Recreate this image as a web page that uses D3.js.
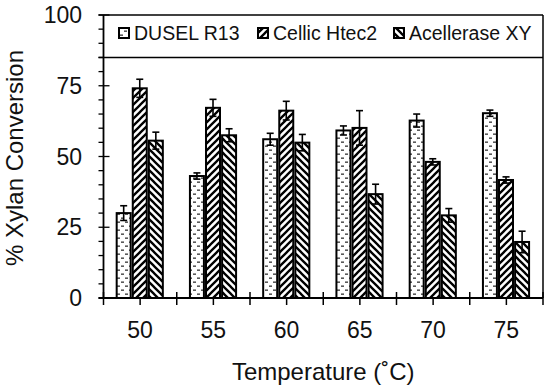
<!DOCTYPE html>
<meta charset="utf-8">
<head>
  <title>Xylan conversion</title>
</head>
<style>
body {
  margin: 0;
  background: #fff;
  font-family: "Liberation Sans", Arial, sans-serif;
}
text { fill: #111; }
</style>
<body>
  <div id="content">
    <svg width="550" height="392"></svg>
  </div>
  <script src="https://cdnjs.cloudflare.com/ajax/libs/d3/7.8.5/d3.min.js"></script>
  <script>

// data
var temps = ['50', '55', '60', '65', '70', '75'];
var series = ['DUSEL R13', 'Cellic Htec2', 'Acellerase XY'];
var dusel = [30, 43.1, 56.1, 59.2, 62.7, 65.3];
var duselErr = [2.6, 1.1, 2.1, 1.6, 2.3, 1.1];
var cellic = [74.1, 67.2, 66.2, 60.1, 48.1, 41.7];
var cellicErr = [3.2, 3.0, 3.3, 6.1, 1.1, 1.1];
var acell = [55.6, 57.5, 54.9, 36.7, 29.2, 19.8];
var acellErr = [3.0, 2.3, 2.9, 3.5, 2.4, 3.8];
var yTicks = [0, 25, 50, 75, 100];

var values = [dusel, cellic, acell];
var errors = [duselErr, cellicErr, acellErr];

var svg = d3.select('#content svg');
// (window.top is read-only, so use other names)
var pL = 103.5, pR = 543, pT = 15, pB = 298;

var x = d3.scaleBand().domain(temps).range([pL, pR]);
var bw = x.bandwidth();
var x1 = d3.scaleBand().domain(series).range([bw * 0.18, bw * 0.81]).paddingInner(0.13);
var y = d3.scaleLinear().domain([0, 100]).range([pB, pT]);

//patterns
var defs = svg.append('defs');
var p0 = defs.append('pattern').attr('id', 'pat0').attr('patternUnits', 'userSpaceOnUse')
  .attr('width', 8).attr('height', 8);
p0.append('rect').attr('width', 8).attr('height', 8).attr('fill', '#fff');
p0.append('rect').attr('x', 1).attr('y', 1.5).attr('width', 3).attr('height', 1.3).attr('fill', '#333');
p0.append('rect').attr('x', 5).attr('y', 5.5).attr('width', 3).attr('height', 1.3).attr('fill', '#333');

var p1 = defs.append('pattern').attr('id', 'pat1').attr('patternUnits', 'userSpaceOnUse')
  .attr('width', 7).attr('height', 7);
p1.append('rect').attr('width', 7).attr('height', 7).attr('fill', '#fff');
p1.append('path').attr('d', 'M-1,8 L8,-1 M-1,1 L1,-1 M6,8 L8,6')
  .attr('stroke', '#000').attr('stroke-width', 2.3);

var p2 = defs.append('pattern').attr('id', 'pat2').attr('patternUnits', 'userSpaceOnUse')
  .attr('width', 7).attr('height', 7);
p2.append('rect').attr('width', 7).attr('height', 7).attr('fill', '#fff');
p2.append('path').attr('d', 'M-1,-1 L8,8 M6,-1 L8,1 M-1,6 L1,8')
  .attr('stroke', '#000').attr('stroke-width', 2.3);

//frame
svg.append('line').attr('x1', pL - 5).attr('x2', pR).attr('y1', pT).attr('y2', pT)
  .attr('stroke', '#000').attr('stroke-width', 1.5);
svg.append('line').attr('x1', pR).attr('x2', pR).attr('y1', pT).attr('y2', pB)
  .attr('stroke', '#000').attr('stroke-width', 1.5);
svg.append('line').attr('x1', pL - 5).attr('x2', pR).attr('y1', y(85)).attr('y2', y(85))
  .attr('stroke', '#000').attr('stroke-width', 1.5);

//bars
series.forEach(function(s, i) {
  var g = svg.append('g');
  g.selectAll('rect').data(temps).enter().append('rect')
    .attr('x', function(t) { return x(t) + x1(s); })
    .attr('y', function(t, j) { return y(values[i][j]); })
    .attr('width', x1.bandwidth())
    .attr('height', function(t, j) { return y(0) - y(values[i][j]); })
    .attr('fill', 'url(#pat' + i + ')')
    .attr('stroke', '#000').attr('stroke-width', 2);

  var eb = g.selectAll('g.err').data(temps).enter().append('g').attr('class', 'err')
    .attr('stroke', '#000').attr('stroke-width', 1.6);
  eb.append('line')
    .attr('x1', function(t) { return x(t) + x1(s) + x1.bandwidth() / 2; })
    .attr('x2', function(t) { return x(t) + x1(s) + x1.bandwidth() / 2; })
    .attr('y1', function(t, j) { return y(values[i][j] + errors[i][j]); })
    .attr('y2', function(t, j) { return y(values[i][j] - errors[i][j]); });
  [1, -1].forEach(function(sign) {
    eb.append('line')
      .attr('x1', function(t) { return x(t) + x1(s) + x1.bandwidth() / 2 - 3.5; })
      .attr('x2', function(t) { return x(t) + x1(s) + x1.bandwidth() / 2 + 3.5; })
      .attr('y1', function(t, j) { return y(values[i][j] + sign * errors[i][j]); })
      .attr('y2', function(t, j) { return y(values[i][j] + sign * errors[i][j]); });
  });
});

//y axis
var yAxis = svg.append('g').attr('stroke', '#000');
yAxis.append('line').attr('x1', pL).attr('x2', pL).attr('y1', pT).attr('y2', pB + 1)
  .attr('stroke-width', 1.8);
yAxis.selectAll('line.minor').data(d3.range(0, 101, 5)).enter().append('line')
  .attr('x1', pL - 5).attr('x2', function(d) { return d % 25 === 0 ? pL + 6 : pL; })
  .attr('y1', function(d) { return y(d); }).attr('y2', function(d) { return y(d); })
  .attr('stroke-width', 1.3);
svg.selectAll('text.ylab').data(yTicks).enter().append('text')
  .attr('x', 82).attr('y', function(d) { return y(d) + 8; })
  .attr('text-anchor', 'end').style('font-size', '23px')
  .text(function(d) { return d; });

//x axis
var xAxis = svg.append('g').attr('stroke', '#000');
xAxis.append('line').attr('x1', pL - 5).attr('x2', pR).attr('y1', pB).attr('y2', pB)
  .attr('stroke-width', 1.8);
xAxis.selectAll('line.b').data(temps.concat(['end'])).enter().append('line')
  .attr('x1', function(t) { return t === 'end' ? pR : x(t); })
  .attr('x2', function(t) { return t === 'end' ? pR : x(t); })
  .attr('y1', pB - 6).attr('y2', pB + 7).attr('stroke-width', 1.5);
xAxis.selectAll('line.c').data(temps).enter().append('line')
  .attr('x1', function(t) { return x(t) + bw / 2; })
  .attr('x2', function(t) { return x(t) + bw / 2; })
  .attr('y1', pB).attr('y2', pB + 7).attr('stroke-width', 1.5);
svg.selectAll('text.xlab').data(temps).enter().append('text')
  .attr('x', function(t) { return x(t) + bw / 2; }).attr('y', 338)
  .attr('text-anchor', 'middle').style('font-size', '23px')
  .text(function(t) { return t; });

//titles
svg.append('text').attr('x', (pL + pR) / 2).attr('y', 380)
  .attr('text-anchor', 'middle').style('font-size', '24px')
  .text('Temperature (\u02DAC)');
svg.append('text').attr('transform', 'translate(23,158) rotate(-90)')
  .attr('text-anchor', 'middle').style('font-size', '24px')
  .text('% Xylan Conversion');

//legend
var legX = [119, 258, 394];
var leg = svg.selectAll('g.leg').data(series).enter().append('g')
  .attr('transform', function(d, i) { return 'translate(' + legX[i] + ',33)'; });
leg.append('rect').attr('x', 0).attr('y', -5).attr('width', 10).attr('height', 10)
  .attr('fill', function(d, i) { return 'url(#pat' + i + ')'; })
  .attr('stroke', '#000').attr('stroke-width', 2);
leg.append('text').attr('x', 15).attr('y', 7).style('font-size', '19.5px')
  .text(function(d) { return d; });
</script>
</body>
</html>
